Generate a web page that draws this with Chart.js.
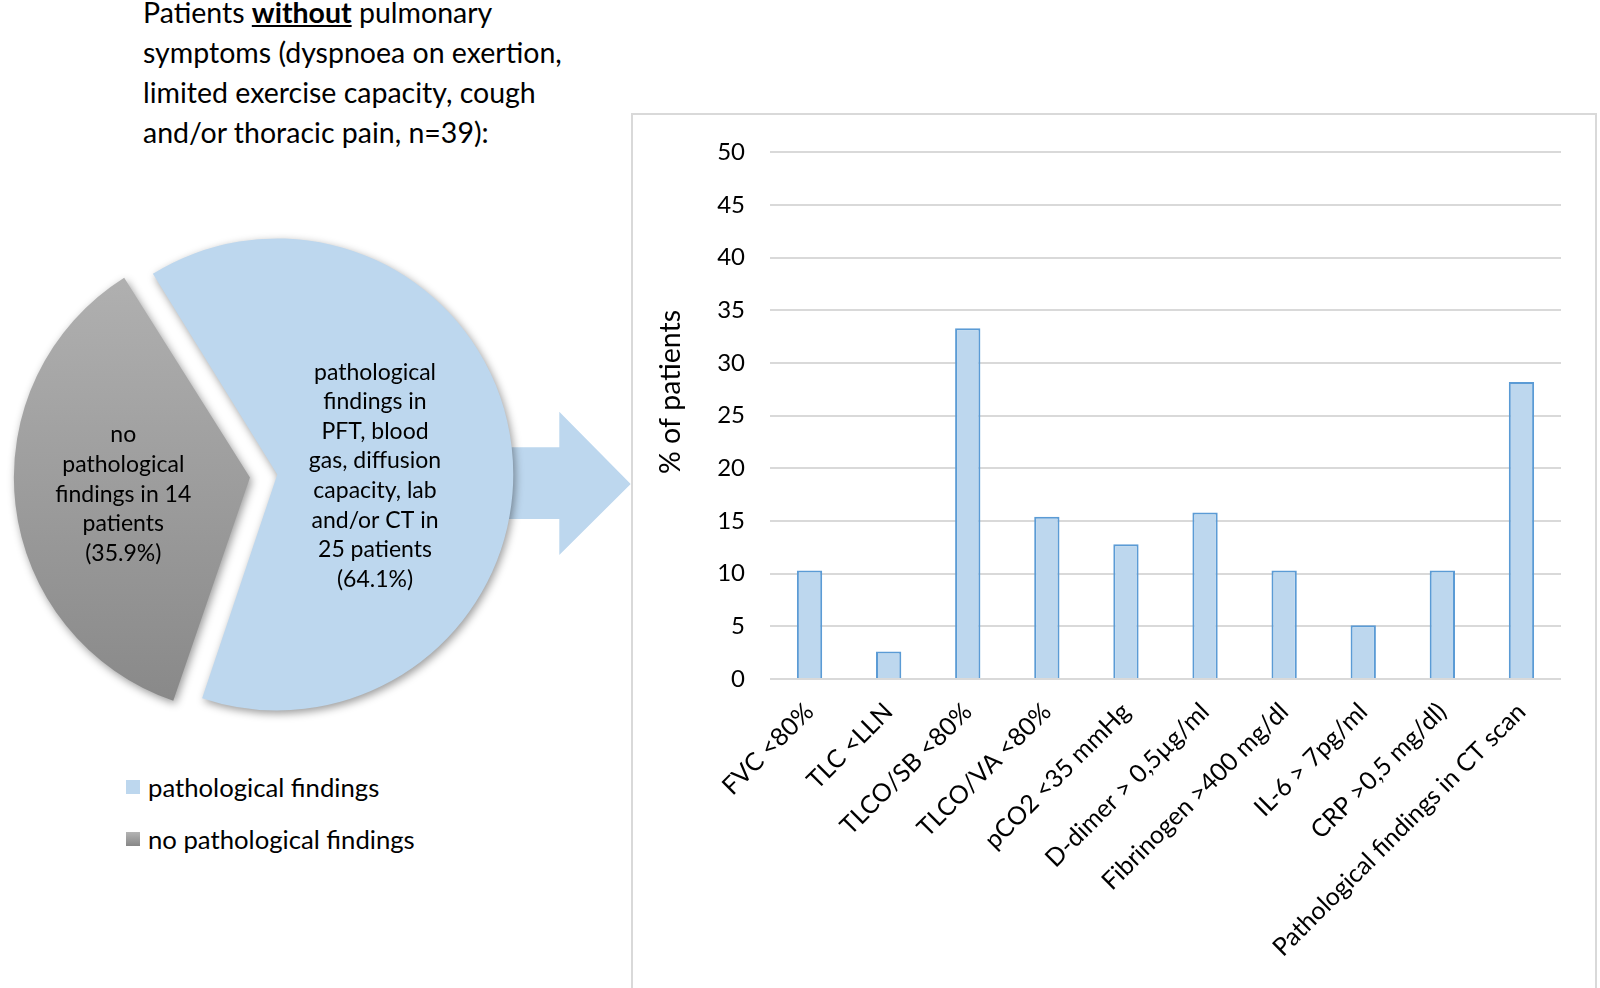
<!DOCTYPE html>
<html>
<head>
<meta charset="utf-8">
<script src="https://cdn.jsdelivr.net/npm/chart.js@4.4.0/dist/chart.umd.min.js"></script>
<style>
html,body{margin:0;padding:0;background:#fff;width:1600px;height:988px;overflow:hidden;font-family:Lato,sans-serif;color:#000;}
#title{position:absolute;left:143px;top:-8px;font-size:28.5px;line-height:40px;white-space:nowrap;}
#title b{text-decoration:underline;}
#pieWrap{position:absolute;left:0;top:190px;width:640px;height:570px;}
.li{position:absolute;left:126px;height:26px;display:flex;align-items:center;font-size:25.7px;white-space:nowrap;}
.sw{width:14px;height:14px;margin-right:8px;}
#box{position:absolute;left:631px;top:113px;width:962px;height:890px;border:2px solid #d9d9d9;}
#barWrap{position:absolute;left:632px;top:113px;width:963px;height:875px;}
</style>
</head>
<body>
<div id="title">Patients <b>without</b> pulmonary<br>symptoms (dyspnoea on exertion,<br>limited exercise capacity, cough<br>and/or thoracic pain, n=39):</div>
<div id="pieWrap"><canvas id="pie"></canvas></div>
<div id="legend"></div>
<div id="box"></div>
<div id="barWrap"><canvas id="bar"></canvas></div>
<script>
// ---- data ----
const pieCategories = ['pathological findings', 'no pathological findings'];
const pieValues = [64.1, 35.9];
const pieLabelLines = [
  ['pathological', 'findings in', 'PFT, blood', 'gas, diffusion', 'capacity, lab', 'and/or CT in', '25 patients', '(64.1%)'],
  ['no', 'pathological', 'findings in 14', 'patients', '(35.9%)']
];
const barCategories = ['FVC <80%', 'TLC <LLN', 'TLCO/SB <80%', 'TLCO/VA <80%', 'pCO2 <35 mmHg',
  'D-dimer > 0,5µg/ml', 'Fibrinogen >400 mg/dl', 'IL-6 > 7pg/ml', 'CRP >0,5 mg/dl)', 'Pathological findings in CT scan'];
const barValues = [10.3, 2.6, 33.3, 15.4, 12.8, 15.8, 10.3, 5.1, 10.3, 28.2];
const yTickValues = [0, 5, 10, 15, 20, 25, 30, 35, 40, 45, 50];
const yAxisTitle = '% of patients';

// ---- styles ----
const BLUE = '#bdd7ee';
const BLUE_BORDER = '#5b9bd5';
const GRAY_TOP = '#b4b4b4', GRAY_BOTTOM = '#878787';
const FONT = 'Lato';

// legend (HTML)
const legendEl = document.getElementById('legend');
pieCategories.forEach((c, i) => {
  const d = document.createElement('div');
  d.className = 'li';
  d.style.top = (774 + i * 52) + 'px';
  const s = document.createElement('span');
  s.className = 'sw';
  s.style.background = i === 0 ? BLUE : 'linear-gradient(' + GRAY_TOP + ',' + GRAY_BOTTOM + ')';
  d.appendChild(s);
  d.appendChild(document.createTextNode(c));
  legendEl.appendChild(d);
});

// ---- pie ----
const pieDeco = {
  id: 'pieDeco',
  beforeDatasetsDraw(chart) {
    const ctx = chart.ctx;
    const a = chart.chartArea;
    const cx = (a.left + a.right) / 2, cy = (a.top + a.bottom) / 2;
    // arrow behind the pie
    ctx.save();
    ctx.fillStyle = BLUE;
    ctx.beginPath();
    ctx.moveTo(cx + 170, cy - 27.7);
    ctx.lineTo(cx + 287, cy - 27.7);
    ctx.lineTo(cx + 287, cy - 63.3);
    ctx.lineTo(cx + 358.4, cy + 9);
    ctx.lineTo(cx + 287, cy + 80);
    ctx.lineTo(cx + 287, cy + 44);
    ctx.lineTo(cx + 170, cy + 44);
    ctx.closePath();
    ctx.fill();
    ctx.restore();
    // shadow for the slices
    ctx.save();
    ctx.shadowColor = 'rgba(0,0,0,0.4)';
    ctx.shadowBlur = 9;
    ctx.shadowOffsetX = 2;
    ctx.shadowOffsetY = 3;
  },
  afterDatasetsDraw(chart) {
    const ctx = chart.ctx;
    ctx.restore();
    const a = chart.chartArea;
    const cx = (a.left + a.right) / 2, cy = (a.top + a.bottom) / 2;
    const pos = [[cx + 102.7, cy + 0.8], [cx - 149, cy + 19.2]];
    ctx.save();
    ctx.fillStyle = '#000';
    ctx.font = '23px ' + FONT;
    ctx.textAlign = 'center';
    ctx.textBaseline = 'middle';
    pieLabelLines.forEach((lines, i) => {
      const lh = 29.6;
      const y0 = pos[i][1] - (lines.length - 1) * lh / 2;
      lines.forEach((t, j) => ctx.fillText(t, pos[i][0], y0 + j * lh));
    });
    ctx.restore();
  }
};

new Chart(document.getElementById('pie'), {
  type: 'pie',
  data: {
    labels: pieCategories,
    datasets: [{
      data: pieValues,
      backgroundColor: (c) => {
        if (c.dataIndex === 0) return BLUE;
        const a = c.chart.chartArea;
        if (!a) return GRAY_BOTTOM;
        const g = c.chart.ctx.createLinearGradient(0, a.top + 40, 0, a.bottom - 40);
        g.addColorStop(0, GRAY_TOP);
        g.addColorStop(1, GRAY_BOTTOM);
        return g;
      },
      borderWidth: 0,
      offset: [20, 90]
    }]
  },
  options: {
    animation: false,
    responsive: true,
    maintainAspectRatio: false,
    events: [],
    rotation: -32,
    radius: 231,
    layout: { padding: { left: 0, right: 95.4, top: 0, bottom: 0 } },
    plugins: { legend: { display: false }, tooltip: { enabled: false } }
  },
  plugins: [pieDeco]
});

// ---- bar ----
const yTitlePlugin = {
  id: 'yTitle',
  afterDraw(chart) {
    const ctx = chart.ctx;
    ctx.save();
    ctx.translate(39, 279);
    ctx.rotate(-Math.PI / 2);
    ctx.fillStyle = '#000';
    ctx.font = '28.5px ' + FONT;
    ctx.textAlign = 'center';
    ctx.textBaseline = 'middle';
    ctx.fillText(yAxisTitle, 0, 0);
    ctx.restore();
  }
};

new Chart(document.getElementById('bar'), {
  type: 'bar',
  data: {
    labels: barCategories,
    datasets: [{
      data: barValues,
      backgroundColor: BLUE,
      borderColor: BLUE_BORDER,
      borderWidth: 2,
      barPercentage: 0.32,
      categoryPercentage: 1
    }]
  },
  options: {
    animation: false,
    responsive: true,
    maintainAspectRatio: false,
    events: [],
    layout: { padding: { top: 33, right: 34, left: 0, bottom: 0 } },
    plugins: { legend: { display: false }, tooltip: { enabled: false } },
    scales: {
      x: {
        grid: { display: false },
        border: { display: false },
        ticks: { minRotation: 45, maxRotation: 45, autoSkip: false, color: '#000', font: { family: FONT, size: 25 }, padding: 10 },
        afterFit: (s) => { s.height = 309; }
      },
      y: {
        min: 0, max: 50,
        afterBuildTicks: (s) => { s.ticks = yTickValues.map(v => ({ value: v })); },
        ticks: { color: '#000', font: { family: FONT, size: 24 }, padding: 25 },
        grid: { color: '#d9d9d9', lineWidth: 2, drawTicks: false },
        border: { display: false },
        afterFit: (s) => { s.width = 138; }
      }
    }
  },
  plugins: [yTitlePlugin]
});
</script>
</body>
</html>
